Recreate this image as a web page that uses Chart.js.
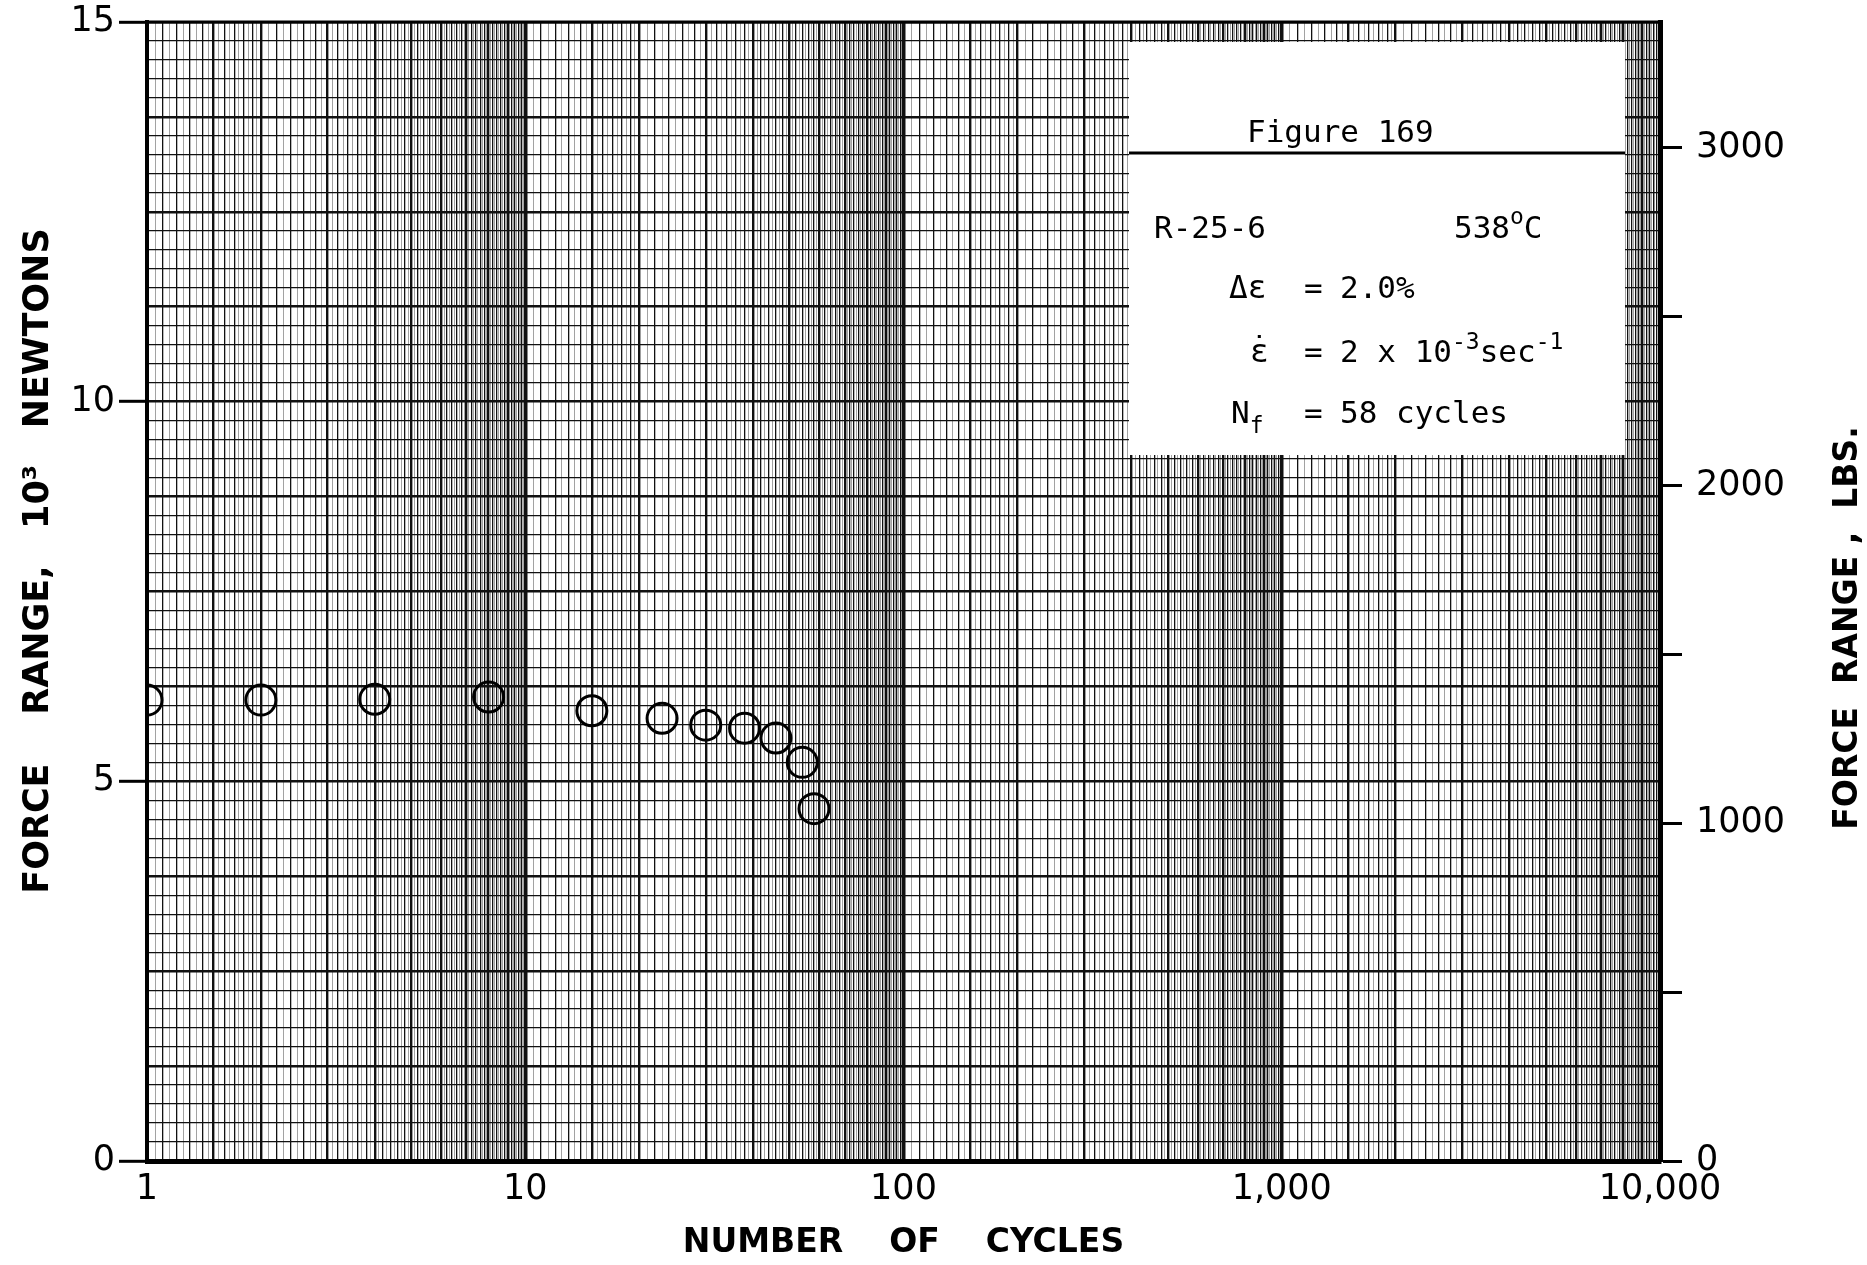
<!DOCTYPE html>
<html>
<head>
<meta charset="utf-8">
<title>Force range vs number of cycles</title>
<script src="https://cdn.jsdelivr.net/npm/chart.js@4.4.1/dist/chart.umd.min.js"></script>
<style>
  html, body { margin: 0; padding: 0; background: #fff; }
  #wrap { width: 1867px; height: 1265px; }
</style>
</head>
<body>
<div id="wrap"><canvas id="myChart"></canvas></div>
<script>
// cycle count and force range (10^3 N) at each recorded cycle
const cycles = [1, 2, 4, 8, 15, 23, 30, 38, 46, 54, 58];
const forceRange = [6.07, 6.07, 6.08, 6.11, 5.93, 5.83, 5.74, 5.70, 5.57, 5.25, 4.64];

// labelled ticks
const cycleTicks = [1, 10, 100, 1000, 10000];
const cycleLabels = ['1', '10', '100', '1,000', '10,000'];
const newtonLabels = [0, 5, 10, 15];
const poundTicks = [0, 500, 1000, 1500, 2000, 2500, 3000];
const poundLabels = ['0', '', '1000', '', '2000', '', '3000'];

const NEWTONS_PER_LB = 4.44822;
const FORCE_MAX = 15;

// heavier printed lines inside each decade of the log paper
const heavyLines = [1.5, 2, 3, 4, 5, 6, 7, 8, 9];

function paperLines() {
  const vals = [];
  for (let d = 1; d < 10000; d *= 10) {
    for (let k = 20; k < 40; k++) vals.push(+(k / 20 * d).toFixed(4));
    for (let k = 20; k < 100; k++) vals.push(+(k / 10 * d).toFixed(4));
  }
  vals.push(10000);
  return vals;
}

function mantissa(v) {
  const e = Math.floor(Math.log10(v) + 1e-9);
  return Math.round(v / Math.pow(10, e) * 100) / 100;
}

function xWidth(v) {
  const m = mantissa(v);
  if (m === 1) return 3.5;
  if (heavyLines.includes(m)) return 2.4;
  const k = Math.round(m * 100);
  if (m < 2 ? k % 10 === 0 : k % 20 === 0) return 1.3;
  return 0.8;
}

function yWidth(v) {
  const q = v / 1.25;
  return Math.abs(q - Math.round(q)) < 1e-6 ? 2.6 : 1.3;
}

const MONO = '31px "DejaVu Sans Mono"';
const MONO_SMALL = '23px "DejaVu Sans Mono"';

function runText(ctx, x, y, parts) {
  for (const p of parts) {
    ctx.font = p.small ? MONO_SMALL : MONO;
    ctx.fillText(p.t, x, y + (p.dy || 0));
    const w = ctx.measureText(p.t).width;
    if (p.dot) {
      // rate symbol: dot centred over the epsilon
      ctx.textAlign = 'center';
      ctx.fillText('˙', x + w / 2, y - 4);
      ctx.textAlign = 'left';
    }
    x += w;
  }
}

// vertical axes: no extra room above/below for the end labels
function fixedWidth(w) {
  return s => {
    s.width = w;
    s.paddingTop = 0;
    s.paddingBottom = 0;
  };
}

// white legend panel with test conditions, plus the top frame line
const infoBox = {
  id: 'infoBox',
  beforeDatasetsDraw(chart) {
    const ctx = chart.ctx;
    const a = chart.chartArea;
    const bx = a.right - 531, by = a.top + 20;
    ctx.save();
    ctx.fillStyle = '#fff';
    ctx.fillRect(bx, by, 496, 413);

    ctx.strokeStyle = '#000';
    ctx.lineWidth = 3;
    ctx.beginPath();
    ctx.moveTo(bx, by + 111);
    ctx.lineTo(bx + 496, by + 111);
    ctx.stroke();

    ctx.fillStyle = '#000';
    ctx.textBaseline = 'alphabetic';
    ctx.textAlign = 'left';
    runText(ctx, bx + 118, by + 100, [{ t: 'Figure 169' }]);
    runText(ctx, bx + 25, by + 196, [{ t: 'R-25-6' }]);
    runText(ctx, bx + 325, by + 196, [{ t: '538' }, { t: 'o', small: true, dy: -14 }, { t: 'C' }]);
    runText(ctx, bx + 100, by + 256, [{ t: 'Δε' }]);
    runText(ctx, bx + 175, by + 256, [{ t: '=' }]);
    runText(ctx, bx + 211, by + 256, [{ t: '2.0%' }]);
    runText(ctx, bx + 121, by + 320, [{ t: 'ε', dot: true }]);
    runText(ctx, bx + 175, by + 320, [{ t: '=' }]);
    runText(ctx, bx + 211, by + 320, [
      { t: '2 x 10' }, { t: '-3', small: true, dy: -13 },
      { t: 'sec' }, { t: '-1', small: true, dy: -13 }
    ]);
    runText(ctx, bx + 102, by + 381, [{ t: 'N' }, { t: 'f', small: true, dy: 10 }]);
    runText(ctx, bx + 175, by + 381, [{ t: '=' }]);
    runText(ctx, bx + 211, by + 381, [{ t: '58 cycles' }]);

    ctx.lineWidth = 3;
    ctx.beginPath();
    ctx.moveTo(a.left, a.top);
    ctx.lineTo(a.right, a.top);
    ctx.stroke();
    ctx.restore();
  },
  afterDraw(chart) {
    // right axis title reads bottom to top like the left one
    const ctx = chart.ctx;
    ctx.save();
    ctx.translate(chart.width - 19, 628);
    ctx.rotate(-Math.PI / 2);
    ctx.fillStyle = '#000';
    ctx.font = 'bold 33px "DejaVu Sans"';
    ctx.textAlign = 'center';
    ctx.textBaseline = 'middle';
    ctx.fillText('FORCE  RANGE ,  LBS.', 0, 0);
    ctx.restore();
  }
};

const tickFont = { family: 'DejaVu Sans', size: 35 };
const titleFont = { family: 'DejaVu Sans', size: 33, weight: 'bold' };

const ctx = document.getElementById('myChart');
new Chart(ctx, {
  type: 'scatter',
  data: {
    datasets: [{
      data: cycles.map((c, i) => ({ x: c, y: forceRange[i] })),
      pointStyle: 'circle',
      pointRadius: 15,
      pointHoverRadius: 15,
      pointBorderWidth: 3,
      borderColor: '#000',
      backgroundColor: 'rgba(0,0,0,0)'
    }]
  },
  options: {
    responsive: true,
    maintainAspectRatio: false,
    animation: false,
    layout: { padding: { top: 22, left: 0, right: 0, bottom: 0 } },
    plugins: {
      legend: { display: false },
      tooltip: { enabled: false }
    },
    scales: {
      x: {
        type: 'logarithmic',
        min: 1,
        max: 10000,
        position: 'bottom',
        afterBuildTicks: s => { s.ticks = paperLines().map(v => ({ value: v })); },
        afterFit: s => { s.height = 104; },
        ticks: {
          autoSkip: false,
          maxRotation: 0,
          minRotation: 0,
          padding: 8,
          color: '#000',
          font: tickFont,
          callback: v => {
            const i = cycleTicks.findIndex(t => Math.abs(t - v) < 1e-6 * t);
            return i < 0 ? '' : cycleLabels[i];
          }
        },
        grid: {
          drawTicks: false,
          lineWidth: c => xWidth(c.tick.value),
          color: c => xWidth(c.tick.value) < 1 ? '#8a8a8a' : '#111'
        },
        border: { color: '#000', width: 5 },
        title: {
          display: true,
          text: 'NUMBER    OF    CYCLES',
          color: '#000',
          font: titleFont,
          padding: { top: 0, bottom: 2 }
        }
      },
      y: {
        min: 0,
        max: FORCE_MAX,
        position: 'left',
        afterBuildTicks: s => {
          const t = [];
          for (let k = 0; k <= 60; k++) t.push({ value: k * 0.25 });
          s.ticks = t;
        },
        afterFit: fixedWidth(147),
        ticks: {
          autoSkip: false,
          padding: 4,
          color: '#000',
          font: tickFont,
          callback: v => newtonLabels.includes(v) ? String(v) : ''
        },
        grid: {
          lineWidth: c => yWidth(c.tick.value),
          color: '#111',
          tickLength: 28,
          tickWidth: 3,
          tickColor: c => newtonLabels.includes(c.tick.value) ? '#000' : 'rgba(0,0,0,0)'
        },
        border: { color: '#000', width: 4 },
        title: {
          display: true,
          text: '     FORCE    RANGE,   10³   NEWTONS',
          color: '#000',
          font: { family: 'DejaVu Sans', size: 35, weight: 'bold' },
          padding: { top: 18, bottom: 0 }
        }
      },
      y2: {
        min: 0,
        max: FORCE_MAX * 1000 / NEWTONS_PER_LB,
        position: 'right',
        afterBuildTicks: s => { s.ticks = poundTicks.map(v => ({ value: v })); },
        afterFit: fixedWidth(207),
        ticks: {
          autoSkip: false,
          padding: 14,
          color: '#000',
          font: tickFont,
          callback: v => poundLabels[poundTicks.indexOf(v)]
        },
        grid: {
          drawOnChartArea: false,
          tickLength: 22,
          tickWidth: 3,
          tickColor: '#000'
        },
        border: { color: '#000', width: 5 }
      }
    }
  },
  plugins: [infoBox]
});
</script>
</body>
</html>
